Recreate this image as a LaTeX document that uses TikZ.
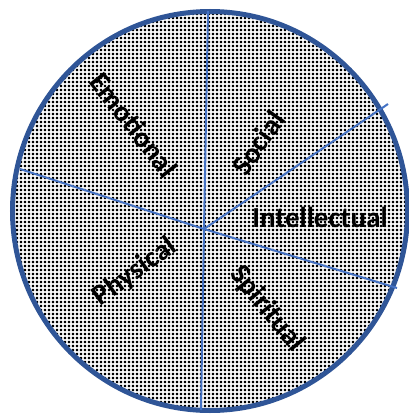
\documentclass[tikz,border=0pt]{standalone}
\usepackage{fontspec}
\setmainfont{Carlito}
\usetikzlibrary{patterns.meta}
\pgfdeclarepattern{name=smalldots, type=uncolored,
  bottom left={\pgfpoint{0pt}{0pt}}, top right={\pgfpoint{3.9pt}{3.9pt}},
  tile size={\pgfpoint{3.9pt}{3.9pt}},
  code={\pgfpathrectangle{\pgfpoint{0.8pt}{0.8pt}}{\pgfpoint{2.3pt}{2.3pt}}\pgfusepath{fill}}}
\definecolor{rimblue}{HTML}{2F5597}
\definecolor{spokeblue}{HTML}{4472C4}
\tikzset{
  rim/.style={draw=rimblue, line width=5pt, pattern=smalldots, pattern color=black},
  spoke/.style={draw=spokeblue, line width=2pt},
  lbl/.style={inner sep=0pt, font=\fontsize{29}{29}\selectfont\bfseries}
}
\begin{document}
\begin{tikzpicture}[x=1pt,y=-1pt]
\useasboundingbox (0,0) rectangle (409,415);
\path[rim] (210,211) ellipse [x radius=197.5, y radius=199.5];
\coordinate (c) at (204,229);
\coordinate (top) at (208,11);
\coordinate (rt) at (388,104);
\coordinate (rb) at (397,288);
\coordinate (bot) at (201,410);
\coordinate (lf) at (20,169);
\draw[spoke] (c) -- (top);
\draw[spoke] (c) -- (rt);
\draw[spoke] (c) -- (rb);
\draw[spoke] (c) -- (bot);
\draw[spoke] (c) -- (lf);
\node[lbl, rotate=-52] (emo) at (134,125) {Emotional};
\node[lbl, rotate=55] (soc) at (258,143) {Social};
\node[lbl, anchor=base] (int) at (320,227) {Intellectual};
\node[lbl, rotate=36] (phy) at (135,272) {Physical};
\node[lbl, rotate=-51] (spi) at (267,309) {Spiritual};
\end{tikzpicture}
\end{document}
